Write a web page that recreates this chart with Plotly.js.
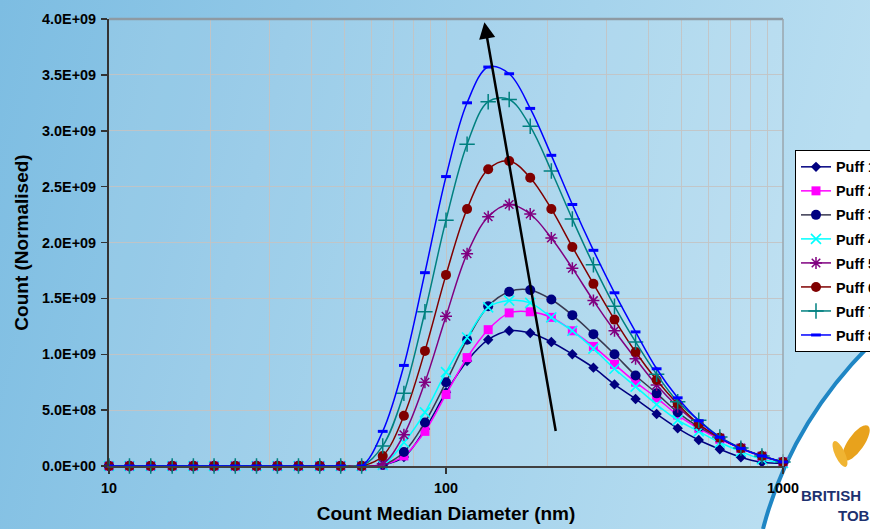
<!DOCTYPE html>
<html>
<head>
<meta charset="utf-8">
<script src="https://cdn.plot.ly/plotly-3.0.1.min.js"></script>
<style>
  html, body { margin: 0; padding: 0; width: 870px; height: 529px; overflow: hidden; }
  #bg { position: absolute; left: 0; top: 0; width: 870px; height: 529px; z-index: 0; }
  #chart { position: absolute; left: 0; top: 0; width: 870px; height: 529px; z-index: 1; }
</style>
</head>
<body>
<svg id="bg" width="870" height="529" xmlns="http://www.w3.org/2000/svg">
  <defs>
    <linearGradient id="g" x1="0" y1="0" x2="1" y2="0.15">
      <stop offset="0" stop-color="#7dbde2"/>
      <stop offset="1" stop-color="#b9def1"/>
    </linearGradient>
  </defs>
  <rect x="0" y="0" width="870" height="529" fill="url(#g)"/>
  <path d="M 763 529 Q 790 425 870 345 L 870 529 Z" fill="#ffffff"/>
  <path d="M 763 529 Q 790 425 870 345" fill="none" stroke="#1f86c4" stroke-width="4"/>
  <ellipse cx="856" cy="443" rx="8" ry="21" transform="rotate(35 856 443)" fill="#e8a21c"/>
  <ellipse cx="840" cy="454" rx="5" ry="14" transform="rotate(-25 840 454)" fill="#f0b432"/>
  <text x="801" y="501" font-family="Liberation Sans, Arial, sans-serif" font-weight="bold" font-size="15" fill="#1d3170">BRITISH</text>
  <text x="838" y="521" font-family="Liberation Sans, Arial, sans-serif" font-weight="bold" font-size="15" fill="#1d3170">TOB</text>
</svg>
<div id="chart"></div>
<script>
// Diameter bins (nm)
const diameters = [10.0, 11.5, 13.3, 15.4, 17.8, 20.5, 23.7, 27.4, 31.6, 36.5, 42.2, 48.7, 56.2,
  64.9, 75.0, 86.6, 100.0, 115.5, 133.4, 154.0, 177.8, 205.4, 237.1, 273.8, 316.2, 365.2,
  421.7, 487.0, 562.3, 649.4, 749.9, 866.0, 1000.0];

// Counts in units of 1E+09
const zeros13 = [0,0,0,0,0,0,0,0,0,0,0,0,0];
const puff1 = zeros13.concat([0.01,0.08,0.33,0.66,0.94,1.13,1.21,1.19,1.11,1.00,0.88,0.73,0.60,0.465,0.337,0.233,0.15,0.078,0.033,0.024]);
const puff2 = zeros13.concat([0.01,0.09,0.31,0.64,0.97,1.22,1.37,1.38,1.33,1.21,1.07,0.91,0.75,0.61,0.456,0.337,0.239,0.158,0.083,0.036]);
const puff3 = zeros13.concat([0.01,0.125,0.39,0.75,1.13,1.43,1.56,1.575,1.49,1.35,1.18,1.00,0.81,0.65,0.48,0.35,0.25,0.16,0.09,0.036]);
const puff4 = zeros13.concat([0.01,0.21,0.48,0.84,1.15,1.42,1.48,1.46,1.33,1.21,1.05,0.87,0.71,0.55,0.41,0.31,0.21,0.13,0.06,0.027]);
const puff5 = zeros13.concat([0.02,0.28,0.75,1.34,1.90,2.23,2.34,2.255,2.04,1.77,1.48,1.21,0.96,0.725,0.53,0.37,0.25,0.16,0.09,0.036]);
const puff6 = zeros13.concat([0.09,0.45,1.03,1.71,2.30,2.655,2.73,2.58,2.30,1.96,1.63,1.31,1.02,0.77,0.555,0.376,0.253,0.158,0.09,0.036]);
const puff7 = zeros13.concat([0.18,0.65,1.38,2.20,2.88,3.26,3.28,3.04,2.64,2.21,1.80,1.43,1.11,0.82,0.575,0.41,0.26,0.16,0.09,0.036]);
const puff8 = zeros13.concat([0.31,0.90,1.73,2.59,3.25,3.57,3.51,3.20,2.78,2.34,1.93,1.55,1.20,0.87,0.61,0.405,0.257,0.158,0.09,0.036]);
const UNIT = 1e9;

const seriesNames = ['Puff 1','Puff 2','Puff 3','Puff 4','Puff 5','Puff 6','Puff 7','Puff 8'];
const seriesData = [puff1, puff2, puff3, puff4, puff5, puff6, puff7, puff8];

const yTickVals = [0, 0.5e9, 1.0e9, 1.5e9, 2.0e9, 2.5e9, 3.0e9, 3.5e9, 4.0e9];
const yTickText = ['0.0E+00','5.0E+08','1.0E+09','1.5E+09','2.0E+09','2.5E+09','3.0E+09','3.5E+09','4.0E+09'];
const xTickVals = [10, 100, 1000];
const xTickText = ['10', '100', '1000'];

const styles = [
  {line:'#000080', marker:{symbol:'diamond', size:8, color:'#000080', line:{width:0}}},
  {line:'#ff00ff', marker:{symbol:'square', size:9, color:'#ff00ff', line:{width:0}}},
  {line:'#383850', marker:{symbol:'circle', size:10, color:'#000080', line:{width:0}}},
  {line:'#00ffff', marker:{symbol:'x-thin-open', size:10, color:'#00ffff', line:{width:1.6, color:'#00ffff'}}},
  {line:'#800080', marker:{symbol:'asterisk-open', size:10, color:'#800080', line:{width:1.5, color:'#800080'}}},
  {line:'#800000', marker:{symbol:'circle', size:10, color:'#800000', line:{width:0}}},
  {line:'#008080', marker:{symbol:'cross-thin-open', size:11, color:'#008080', line:{width:1.5, color:'#008080'}}},
  {line:'#0000ff', marker:{symbol:'line-ew-open', size:7, color:'#0000ff', line:{width:3, color:'#0000ff'}}}
];

const traces = seriesNames.map((name, i) => ({
  type: 'scatter',
  mode: 'lines+markers',
  name: name,
  legendgroup: 'g' + i,
  x: diameters,
  y: seriesData[i].map(v => v * UNIT),
  line: {color: styles[i].line, width: 1.5, shape: 'spline', smoothing: 1},
  marker: styles[i].marker,
  cliponaxis: false,
  hoverinfo: 'x+y+name'
}));

const FONT = 'Liberation Sans, Arial, sans-serif';

const layout = {
  width: 870,
  height: 529,
  margin: {l: 109, r: 87, t: 19, b: 63, autoexpand: false},
  paper_bgcolor: 'rgba(0,0,0,0)',
  plot_bgcolor: 'rgba(255,255,255,0.10)',
  font: {family: FONT, color: '#000000'},
  showlegend: true,
  legend: {
    x: 1.0178, xanchor: 'left', y: 0.707, yanchor: 'top',
    bgcolor: '#ffffff', bordercolor: '#000000', borderwidth: 1,
    font: {family: FONT, size: 14.4, weight: 'bold', color: '#000000'},
    tracegroupgap: 2.3
  },
  xaxis: {
    type: 'log',
    range: [1, 3],
    tickvals: xTickVals,
    ticktext: xTickText,
    ticks: 'outside', ticklen: 6, tickwidth: 1.5, tickcolor: '#333333',
    tickfont: {family: FONT, size: 14.4, weight: 'bold', color: '#000000'},
    ticklabelstandoff: 2,
    showline: true, linecolor: '#404040', linewidth: 2,
    showgrid: true, gridcolor: 'rgba(195,195,195,0.9)', gridwidth: 1,
    minor: {dtick: 'D1', showgrid: true, gridcolor: 'rgba(195,195,195,0.9)', gridwidth: 1, ticks: ''},
    zeroline: false,
    title: {text: 'Count Median Diameter (nm)', font: {family: FONT, size: 19, weight: 'bold', color: '#000000'}, standoff: 11}
  },
  yaxis: {
    range: [0, 4e9],
    tickvals: yTickVals,
    ticktext: yTickText,
    ticks: 'outside', ticklen: 6, tickwidth: 1.5, tickcolor: '#333333',
    tickfont: {family: FONT, size: 14.4, weight: 'bold', color: '#000000'},
    ticklabelstandoff: 2,
    showline: true, linecolor: '#333333', linewidth: 2,
    showgrid: true, gridcolor: 'rgba(195,195,195,0.9)', gridwidth: 1,
    zeroline: false,
    title: {text: 'Count (Normalised)', font: {family: FONT, size: 19, weight: 'bold', color: '#000000'}, standoff: 8}
  },
  shapes: [
    {type: 'line', xref: 'paper', yref: 'paper', x0: 0, x1: 1, y0: 1, y1: 1, line: {color: '#8e9aa3', width: 2.5}},
    {type: 'line', xref: 'paper', yref: 'paper', x0: 1, x1: 1, y0: 0, y1: 1, line: {color: '#9aa6ae', width: 1.5}}
  ],
  annotations: [
    {
      x: Math.log10(130), y: 3.97e9, xref: 'x', yref: 'y',
      ax: Math.log10(212), ay: 0.30e9, axref: 'x', ayref: 'y',
      text: '', showarrow: true, arrowhead: 2, arrowsize: 1.3, arrowwidth: 2.5, arrowcolor: '#000000', standoff: 0
    }
  ]
};

Plotly.newPlot('chart', traces, layout, {displayModeBar: false, staticPlot: true});
</script>
</body>
</html>
